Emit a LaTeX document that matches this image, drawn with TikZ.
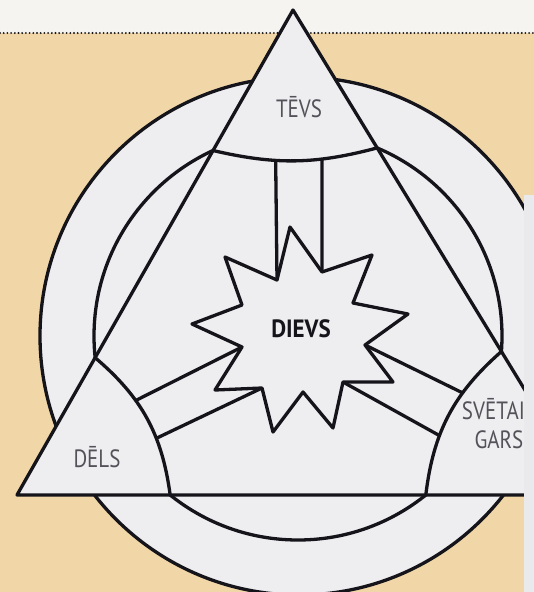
\documentclass[tikz,border=0pt]{standalone}
\usepackage{fontspec}
\newfontfamily\lblfont[FakeStretch=0.84]{PT Sans}
\newfontfamily\godfont[FakeStretch=0.92]{PT Sans}
\usetikzlibrary{intersections}
\definecolor{beige}{RGB}{241,215,168}
\definecolor{paper}{RGB}{246,244,241}
\definecolor{disc}{RGB}{238,238,241}
\definecolor{edgestrip}{RGB}{234,234,236}
\definecolor{ink}{RGB}{20,20,26}
\definecolor{lblgray}{RGB}{82,82,88}
\begin{document}
\begin{tikzpicture}[x=1pt,y=-1pt,line join=round,
  ln/.style={draw=ink,line width=3.3pt},
  lbl/.style={font=\lblfont\fontsize{25}{29}\selectfont,text=lblgray,inner sep=0pt,anchor=base},
  godlbl/.style={font=\godfont\bfseries\fontsize{25}{29}\selectfont,text=ink,inner sep=0pt,anchor=base}]
\useasboundingbox (0,0) rectangle (534,592);
% background
\fill[paper] (0,0) rectangle (534,33);
\fill[beige] (0,33) rectangle (534,592);
\draw[ink,line width=2.1pt,dash pattern=on 0pt off 3.7pt,line cap=round] (0,33) -- (534,33);
% circles
\draw[name path=outer,ln,fill=disc] (299,336) circle[radius=259];
\draw[name path=inner,ln,fill=disc] (298,336) circle[radius=204];
% triangle
\coordinate (A) at (293,10);
\coordinate (B) at (17,495);
\coordinate (C) at (589,495);
\path[name path=sideL] (A) -- (B);
\path[name path=sideR] (A) -- (C);
\path[name path=base] (B) -- (C);
\fill[disc] (A) -- (B) -- (C) -- cycle;
\draw[ln] (A) -- (B) -- (C) -- cycle;
\path[name intersections={of=inner and sideL,sort by=sideL,by={P1,P2}}];
\path[name intersections={of=inner and sideR,sort by=sideR,by={R1,R2}}];
\path[name intersections={of=inner and base,sort by=base,by={Q1,Q2}}];
% corner arcs
\draw[ln,name path=arcT] (P1) to[bend right=14] (R1);
\draw[ln,name path=arcL] (P2) to[bend left=21] (Q1);
\draw[ln,name path=arcR] (Q2) to[bend left=21] (R2);
% star
\coordinate (t1) at (290,227); \coordinate (i1) at (322,272);
\coordinate (t2) at (372,255); \coordinate (i2) at (353,303);
\coordinate (t3) at (408,314); \coordinate (i3) at (365,345);
\coordinate (t4) at (393,382); \coordinate (i4) at (343,382);
\coordinate (t5) at (333,428); \coordinate (i5) at (303,392);
\coordinate (t6) at (273,432); \coordinate (i6) at (262,388);
\coordinate (t7) at (215,390); \coordinate (i7) at (242,347);
\coordinate (t8) at (192,324); \coordinate (i8) at (242,305);
\coordinate (t9) at (225,257); \coordinate (i9) at (277,280);
% bars
\path[name path=bT1] (i9) -- (275,100);
\path[name path=bT2] (i1) -- (322,100);
\path[name path=bL1] (i7) -- (100,418.5);
\path[name path=bL2] (i6) -- (125.5,453);
\path[name path=bR1] (i3) -- (497.6,410);
\path[name path=bR2] (i4) -- (471.7,453.5);
\path[name intersections={of=arcT and bT1,by=eT1}];
\path[name intersections={of=arcT and bT2,by=eT2}];
\path[name intersections={of=arcL and bL1,by=eL1}];
\path[name intersections={of=arcL and bL2,by=eL2}];
\path[name intersections={of=arcR and bR1,by=eR1}];
\path[name intersections={of=arcR and bR2,by=eR2}];
\draw[ln] (i9) -- (eT1);
\draw[ln] (i1) -- (eT2);
\draw[ln] (i7) -- (eL1);
\draw[ln] (i6) -- (eL2);
\draw[ln] (i3) -- (eR1);
\draw[ln] (i4) -- (eR2);
\draw[ln,fill=disc] (t1) -- (i1) -- (t2) -- (i2) -- (t3) -- (i3) -- (t4) -- (i4) -- (t5) -- (i5) -- (t6) -- (i6) -- (t7) -- (i7) -- (t8) -- (i8) -- (t9) -- (i9) -- cycle;
% labels
\node[lbl] (tevs) at (299,117) {TĒVS};
\node[lbl] (dels) at (97,467) {DĒLS};
\node[godlbl] (dievs) at (301,337) {DIEVS};
\node[lbl,align=center] (gars) at (499,448) {SVĒTAIS\\GARS};
% page edge strip
\fill[edgestrip] (524,195) rectangle (534,592);
\end{tikzpicture}
\end{document}
